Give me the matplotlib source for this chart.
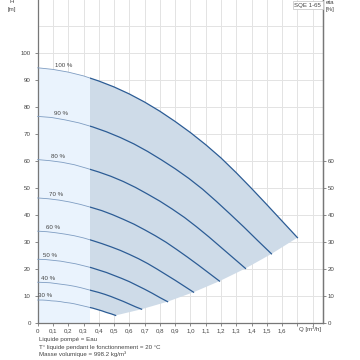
import matplotlib
matplotlib.use("Agg")
import matplotlib.pyplot as plt
from matplotlib.patches import Rectangle

FONT = ["Liberation Sans", "DejaVu Sans"]
plt.rcParams["font.family"] = FONT

# ---- data ----
speed_labels = ["100 %", "90 %", "80 %", "70 %", "60 %", "50 %", "40 %", "30 %"]

q_100 = [0, 0.1, 0.2, 0.3, 0.4, 0.5, 0.6, 0.7, 0.8, 0.9, 1.0, 1.1, 1.2, 1.3, 1.4, 1.5, 1.6, 1.7]
h_100 = [94.5, 93.9, 92.9, 91.5, 89.6, 87.4, 84.8, 81.8, 78.4, 74.6, 70.5, 66.0, 61.1, 55.6, 49.8, 43.8, 37.7, 31.6]
q_90 = [0, 0.09, 0.18, 0.27, 0.36, 0.45, 0.54, 0.63, 0.72, 0.81, 0.9, 0.99, 1.08, 1.17, 1.26, 1.35, 1.44, 1.53]
h_90 = [76.5, 76.1, 75.2, 74.1, 72.6, 70.8, 68.7, 66.3, 63.5, 60.4, 57.1, 53.5, 49.5, 45.0, 40.3, 35.5, 30.5, 25.6]
q_80 = [0, 0.08, 0.16, 0.24, 0.32, 0.4, 0.48, 0.56, 0.64, 0.72, 0.8, 0.88, 0.96, 1.04, 1.12, 1.2, 1.28, 1.36]
h_80 = [60.5, 60.1, 59.5, 58.6, 57.3, 55.9, 54.3, 52.4, 50.2, 47.7, 45.1, 42.2, 39.1, 35.6, 31.9, 28.0, 24.1, 20.2]
q_70 = [0, 0.07, 0.14, 0.21, 0.28, 0.35, 0.42, 0.49, 0.56, 0.63, 0.7, 0.77, 0.84, 0.91, 0.98, 1.05, 1.12, 1.19]
h_70 = [46.3, 46.0, 45.5, 44.8, 43.9, 42.8, 41.6, 40.1, 38.4, 36.6, 34.5, 32.3, 29.9, 27.2, 24.4, 21.5, 18.5, 15.5]
q_60 = [0, 0.06, 0.12, 0.18, 0.24, 0.3, 0.36, 0.42, 0.48, 0.54, 0.6, 0.66, 0.72, 0.78, 0.84, 0.9, 0.96, 1.02]
h_60 = [34.0, 33.8, 33.4, 32.9, 32.3, 31.5, 30.5, 29.4, 28.2, 26.9, 25.4, 23.8, 22.0, 20.0, 17.9, 15.8, 13.6, 11.4]
q_50 = [0, 0.05, 0.1, 0.15, 0.2, 0.25, 0.3, 0.35, 0.4, 0.45, 0.5, 0.55, 0.6, 0.65, 0.7, 0.75, 0.8, 0.85]
h_50 = [23.6, 23.5, 23.2, 22.9, 22.4, 21.9, 21.2, 20.5, 19.6, 18.7, 17.6, 16.5, 15.3, 13.9, 12.5, 11.0, 9.4, 7.9]
q_40 = [0, 0.04, 0.08, 0.12, 0.16, 0.2, 0.24, 0.28, 0.32, 0.36, 0.4, 0.44, 0.48, 0.52, 0.56, 0.6, 0.64, 0.68]
h_40 = [15.1, 15.0, 14.9, 14.6, 14.3, 14.0, 13.6, 13.1, 12.5, 11.9, 11.3, 10.6, 9.8, 8.9, 8.0, 7.0, 6.0, 5.1]
q_30 = [0, 0.03, 0.06, 0.09, 0.12, 0.15, 0.18, 0.21, 0.24, 0.27, 0.3, 0.33, 0.36, 0.39, 0.42, 0.45, 0.48, 0.51]
h_30 = [8.5, 8.5, 8.4, 8.2, 8.1, 7.9, 7.6, 7.4, 7.1, 6.7, 6.3, 5.9, 5.5, 5.0, 4.5, 3.9, 3.4, 2.8]

label_q = [0.17, 0.15, 0.13, 0.118, 0.098, 0.08, 0.065, 0.05]
label_h = [95.5, 77.7, 61.6, 47.7, 35.3, 24.9, 16.5, 10.0]

zone_split_q = 0.34

x_ticks = [0, 0.1, 0.2, 0.3, 0.4, 0.5, 0.6, 0.7, 0.8, 0.9, 1.0,
           1.1, 1.2, 1.3, 1.4, 1.5, 1.6, 1.7, 1.8]
x_tick_labels = ["0", "0,1", "0,2", "0,3", "0,4", "0,5", "0,6", "0,7", "0,8",
                 "0,9", "1,0", "1,1", "1,2", "1,3", "1,4", "1,5", "1,6", "", ""]
h_ticks = [0, 10, 20, 30, 40, 50, 60, 70, 80, 90, 100]
h_grid = [10, 20, 30, 40, 50, 60, 70, 80, 90, 100, 110]
eta_ticks = [0, 10, 20, 30, 40, 50, 60]

notes = ["Liquide pompé = Eau",
         "T° liquide pendant le fonctionnement = 20 °C",
         "Masse volumique = 998.2 kg/m³"]

curves = [(q_100, h_100), (q_90, h_90), (q_80, h_80), (q_70, h_70),
          (q_60, h_60), (q_50, h_50), (q_40, h_40), (q_30, h_30)]

FS = 4.4
TXT = "#444444"

# ---- figure ----
fig = plt.figure(figsize=(3.6, 3.6), dpi=100)
ax = fig.add_axes([0.1047, 0.1028, 0.7933, 0.8972])
ax.set_xlim(0, 1.869)
ax.set_ylim(0, 119.6)

grid_c = "#e3e3e3"
for x in x_ticks[1:]:
    ax.axvline(x, color=grid_c, lw=0.7, zorder=0)
for y in h_grid:
    ax.axhline(y, color=grid_c, lw=0.7, zorder=0)

left_clip = Rectangle((-1, -10), 1 + zone_split_q, 300, transform=ax.transData)
right_clip = Rectangle((zone_split_q, -10), 5, 300, transform=ax.transData)

# light zone
light = ax.fill(q_100 + [q_100[-1], 0], h_100 + [0, 0],
                color="#eaf3fd", lw=0, zorder=1)[0]
light.set_clip_path(left_clip)

# dark zone
end_q = [c[0][-1] for c in curves[1:]]
end_h = [c[1][-1] for c in curves[1:]]
poly_q = q_100 + end_q + q_30[::-1][1:]
poly_h = h_100 + end_h + h_30[::-1][1:]
dark = ax.fill(poly_q, poly_h, color="#cedbe8", lw=0, zorder=1)[0]
dark.set_clip_path(right_clip)

for q, h in curves:
    l1, = ax.plot(q, h, color="#7f9dc2", lw=0.6, zorder=3)
    l1.set_clip_path(left_clip)
    l2, = ax.plot(q, h, color="#2c5c95", lw=0.9, zorder=3)
    l2.set_clip_path(right_clip)

for lab, lq, lh in zip(speed_labels, label_q, label_h):
    ax.text(lq, lh, lab, fontsize=FS, color=TXT, ha="center", va="center", zorder=4)

# axes styling
ax.spines["top"].set_visible(False)
for s in ["left", "right", "bottom"]:
    ax.spines[s].set_color("#777777")
    ax.spines[s].set_linewidth(0.9)

ax.set_xticks(x_ticks)
ax.set_xticklabels(x_tick_labels)
ax.set_yticks(h_ticks)
ax.set_yticklabels([str(v) for v in h_ticks])
ax.tick_params(axis="both", labelsize=FS, colors="#777777", labelcolor=TXT,
               length=2, width=0.6, pad=2)
ax.tick_params(axis="y", pad=3)

ax2 = ax.twinx()
ax2.set_ylim(ax.get_ylim())
ax2.set_yticks(eta_ticks)
ax2.set_yticklabels([str(v) for v in eta_ticks])
ax2.tick_params(axis="y", labelsize=FS, colors="#777777", labelcolor=TXT,
                length=2, width=0.6, pad=1)
for s in ["top", "left", "bottom"]:
    ax2.spines[s].set_visible(False)
ax2.spines["right"].set_color("#777777")
ax2.spines["right"].set_linewidth(0.9)

ax.text(1.784, -2.4, "Q [m³/h]", fontsize=FS, color=TXT, ha="center", va="center",
        clip_on=False)

fig.text(10 / 360, 1 - 1.5 / 360, "H", fontsize=FS, color=TXT, ha="left", va="center")
fig.text(8 / 360, 1 - 9.5 / 360, "[m]", fontsize=FS, color=TXT, ha="left", va="center")
fig.text(326 / 360, 1 - 2.5 / 360, "eta", fontsize=FS, color=TXT, ha="left", va="center")
fig.text(326 / 360, 1 - 10 / 360, "[%]", fontsize=FS, color=TXT, ha="left", va="center")

fig.text(307.8 / 360, 1 - 5 / 360, "SQE 1-65", fontsize=FS, color=TXT,
         ha="center", va="center",
         bbox=dict(boxstyle="square,pad=0.25", fc="white", ec="#cccccc", lw=0.6))

for i, t in enumerate(notes):
    fig.text(39 / 360, 1 - (340 + i * 7.3) / 360, t, fontsize=FS, color=TXT,
             ha="left", va="center")

fig.savefig("out.png", dpi=100)
